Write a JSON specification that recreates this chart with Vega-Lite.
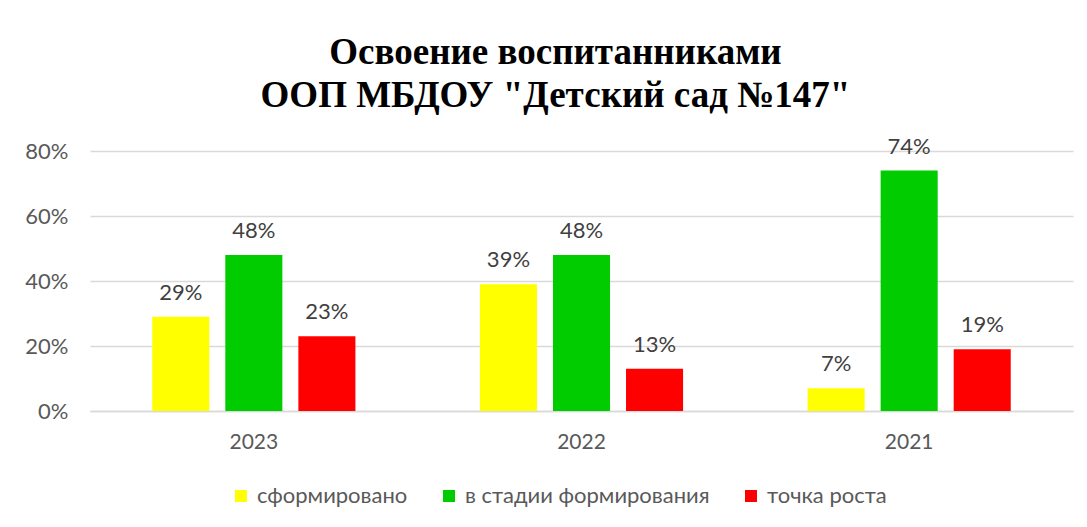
{
  "$schema": "https://vega.github.io/schema/vega-lite/v6.json",
  "autosize": {"type": "none"},
  "width": 983,
  "height": 260,
  "padding": {"left": 90, "top": 151, "right": 14, "bottom": 116},
  "background": "white",
  "config": {
    "view": {"stroke": null},
    "font": "Lato"
  },
  "title": {
    "text": ["Освоение воспитанниками", "ООП МБДОУ \"Детский сад №147\""],
    "font": "Liberation Serif",
    "fontSize": 37,
    "fontWeight": "bold",
    "color": "#000000",
    "lineHeight": 43,
    "anchor": "middle",
    "dx": -26,
    "baseline": "bottom",
    "offset": -16
  },
  "data": {
    "values": [
      {"year": "2023", "category": "сформировано", "value": 0.29},
      {"year": "2023", "category": "в стадии формирования", "value": 0.48},
      {"year": "2023", "category": "точка роста", "value": 0.23},
      {"year": "2022", "category": "сформировано", "value": 0.39},
      {"year": "2022", "category": "в стадии формирования", "value": 0.48},
      {"year": "2022", "category": "точка роста", "value": 0.13},
      {"year": "2021", "category": "сформировано", "value": 0.07},
      {"year": "2021", "category": "в стадии формирования", "value": 0.74},
      {"year": "2021", "category": "точка роста", "value": 0.19}
    ]
  },
  "encoding": {
    "x": {
      "field": "year",
      "type": "nominal",
      "sort": ["2023", "2022", "2021"],
      "scale": {"paddingInner": 0.38, "paddingOuter": 0.19},
      "axis": {
        "title": null,
        "labelAngle": 0,
        "labelFontSize": 21,
        "labelColor": "#595959",
        "labelPadding": 20,
        "ticks": false,
        "domainColor": "#d9d9d9",
        "domainWidth": 1.5
      }
    },
    "xOffset": {
      "field": "category",
      "type": "nominal",
      "sort": ["сформировано", "в стадии формирования", "точка роста"],
      "scale": {"paddingInner": 0.219, "paddingOuter": 0}
    },
    "y": {
      "field": "value",
      "type": "quantitative",
      "scale": {"domain": [0, 0.8], "nice": false},
      "axis": {
        "title": null,
        "format": ".0%",
        "values": [0, 0.2, 0.4, 0.6, 0.8],
        "labelFontSize": 22,
        "labelColor": "#595959",
        "labelPadding": 22,
        "ticks": false,
        "domain": false,
        "gridColor": "#d9d9d9",
        "gridWidth": 1.5
      }
    }
  },
  "layer": [
    {
      "mark": {"type": "bar"},
      "encoding": {
        "color": {
          "field": "category",
          "type": "nominal",
          "sort": ["сформировано", "в стадии формирования", "точка роста"],
          "scale": {
            "domain": ["сформировано", "в стадии формирования", "точка роста"],
            "range": ["#FFFF00", "#00CC00", "#FF0000"]
          },
          "legend": {
            "title": null,
            "orient": "none",
            "direction": "horizontal",
            "columns": 3,
            "legendX": 140,
            "legendY": 334,
            "symbolType": "square",
            "symbolSize": 144,
            "symbolStrokeWidth": 0,
            "labelFontSize": 22,
            "labelColor": "#595959",
            "labelOffset": 5,
            "columnPadding": 30,
            "labelLimit": 400
          }
        }
      }
    },
    {
      "mark": {"type": "text", "baseline": "alphabetic", "dy": -17, "fontSize": 22, "color": "#404040"},
      "encoding": {
        "text": {"field": "value", "type": "quantitative", "format": ".0%"}
      }
    }
  ]
}
